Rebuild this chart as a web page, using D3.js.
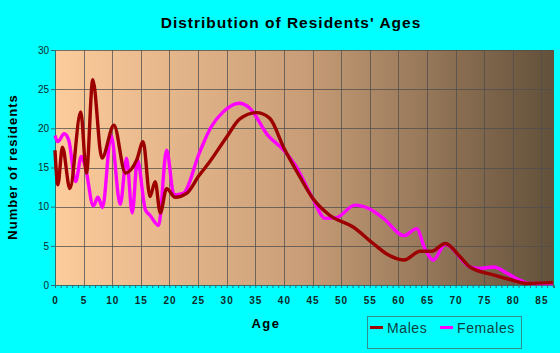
<!DOCTYPE html>
<html>
<head>
<meta charset="utf-8">
<script src="https://cdn.jsdelivr.net/npm/d3@7"></script>
<style>
  body { margin: 0; background: #00ffff; }
  svg { display: block; font-family: Arial, "Liberation Sans", sans-serif; }
</style>
</head>
<body>
<div id="chart"></div>
<script>
var maleAges = [0, 0.5, 1.3, 2.6, 4.5, 5.5, 6.6, 8.2, 10.3, 12.3, 14.3, 15.4, 16.6, 17.5, 18.4, 19.5, 21, 23, 25.2, 27, 30, 32.3, 35.2, 37.5, 40, 42.8, 45, 48, 52.1, 55.6, 57.9, 61, 63.8, 65.8, 68.2, 70.8, 72.5, 76.6, 79.5, 82.4, 87];
var males = [17.2, 12.8, 17.6, 12.3, 22.1, 14.3, 26.2, 16.2, 20.4, 14.3, 16.0, 18.3, 11.3, 13.2, 9.2, 12.3, 11.2, 11.7, 14.0, 15.7, 18.9, 21.2, 22.0, 21.3, 17.5, 13.8, 11.1, 8.9, 7.4, 5.3, 4.0, 3.2, 4.3, 4.3, 5.3, 3.6, 2.3, 1.3, 0.7, 0.2, 0.3];

var femaleAges = [0, 0.5, 1.6, 2.4, 3.6, 4.6, 5.3, 6.7, 7.5, 8.3, 9.8, 11.4, 12.5, 13.5, 14.4, 15.8, 16.6, 18.1, 19.5, 20.8, 22.4, 25.3, 27.3, 29.4, 32.2, 34, 37.2, 40, 42, 45, 47.2, 49.2, 52.4, 55, 57.4, 61, 63.2, 64.6, 66.1, 68.2, 72.5, 74.1, 76.7, 79, 81.6, 83, 87];
var females = [19.1, 18.3, 19.3, 18.5, 13.2, 16.4, 15.1, 10.1, 11.2, 9.9, 19.1, 10.3, 16.2, 9.2, 16.0, 9.6, 8.9, 7.6, 17.2, 11.5, 11.7, 17.0, 20.2, 22.1, 23.2, 22.6, 19.1, 17.2, 15.3, 11.1, 8.5, 8.6, 10.2, 9.7, 8.5, 6.3, 7.2, 4.7, 3.2, 5.2, 2.3, 2.1, 2.3, 1.5, 0.5, 0.2, 0.2];

var xTicks = d3.range(0, 88, 1);
var yTicks = [0, 5, 10, 15, 20, 25, 30];

var w = 560, h = 353;
var margin = {top: 50, right: 6, bottom: 68, left: 55};
var width = w - margin.left - margin.right,
    height = h - margin.top - margin.bottom;

var svg = d3.select("#chart").append("svg").attr("width", w).attr("height", h);

var grad = svg.append("defs").append("linearGradient")
    .attr("id", "bg").attr("x1", "0%").attr("x2", "100%").attr("y1", "0%").attr("y2", "0%");
grad.append("stop").attr("offset", "0%").attr("stop-color", "#fdcc9c");
grad.append("stop").attr("offset", "50%").attr("stop-color", "#c89d77");
grad.append("stop").attr("offset", "100%").attr("stop-color", "#62503a");

var g = svg.append("g").attr("transform", "translate(" + margin.left + "," + margin.top + ")");

var x = d3.scaleLinear().domain([0, 87.2]).range([0, width]);
var y = d3.scaleLinear().domain([0, 30]).range([height, 0]);

g.append("rect").attr("width", width).attr("height", height).attr("fill", "url(#bg)");

// grid
g.append("g").selectAll("line").data(d3.range(5, 86, 5)).enter().append("line")
    .attr("x1", function(d) { return Math.round(x(d)) + 0.5; })
    .attr("x2", function(d) { return Math.round(x(d)) + 0.5; })
    .attr("y1", 0).attr("y2", height)
    .attr("stroke", "#4d4d4d").attr("stroke-opacity", 0.75);
g.append("g").selectAll("line").data(yTicks.slice(1)).enter().append("line")
    .attr("y1", function(d) { return Math.round(y(d)) + 0.5; })
    .attr("y2", function(d) { return Math.round(y(d)) + 0.5; })
    .attr("x1", 0).attr("x2", width)
    .attr("stroke", "#4d4d4d").attr("stroke-opacity", 0.75);

// axes
var xAxis = g.append("g")
    .attr("transform", "translate(0," + height + ")")
    .call(d3.axisBottom(x).tickValues(xTicks).tickSize(3).tickPadding(9)
      .tickFormat(function(d) { return d % 5 === 0 ? d : ""; }));
xAxis.select(".domain").attr("stroke", "#2f6f6f");
xAxis.selectAll(".tick line").attr("stroke", "#2f6f6f");
xAxis.selectAll("text").attr("fill", "#0c2a2a").attr("font-size", 10).attr("font-weight", "bold")
    .attr("letter-spacing", 1).attr("font-family", "Arial, 'Liberation Sans', sans-serif");

var yAxis = g.append("g")
    .call(d3.axisLeft(y).tickValues(yTicks).tickSize(4).tickPadding(2));
yAxis.select(".domain").attr("stroke", "#2f6f6f");
yAxis.selectAll(".tick line").attr("stroke", "#2f6f6f");
yAxis.selectAll("text").attr("fill", "#0c2a2a").attr("font-size", 10)
    .attr("font-family", "Arial, 'Liberation Sans', sans-serif");

// lines
function series(ages, vals) {
  return ages.map(function(a, i) { return {age: a, v: vals[i]}; });
}
var line = d3.line()
    .x(function(d) { return x(d.age); })
    .y(function(d) { return y(d.v); })
    .curve(d3.curveMonotoneX);

g.append("path").datum(series(femaleAges, females))
    .attr("fill", "none").attr("stroke", "#ff00ff").attr("stroke-width", 3.4)
    .attr("stroke-linejoin", "round").attr("d", line);
g.append("path").datum(series(maleAges, males))
    .attr("fill", "none").attr("stroke", "#9c0000").attr("stroke-width", 3.4)
    .attr("stroke-linejoin", "round").attr("d", line);

// titles
svg.append("text").attr("x", 291).attr("y", 28).attr("text-anchor", "middle")
    .attr("font-size", 15.5).attr("font-weight", "bold").attr("letter-spacing", 1)
    .text("Distribution of Residents' Ages");
svg.append("text").attr("x", 266).attr("y", 328).attr("text-anchor", "middle")
    .attr("font-size", 13).attr("font-weight", "bold").attr("letter-spacing", 1.5)
    .text("Age");
svg.append("text").attr("transform", "translate(16.5,167) rotate(-90)").attr("text-anchor", "middle")
    .attr("font-size", 13).attr("font-weight", "bold").attr("letter-spacing", 1)
    .text("Number of residents");

// legend
var leg = svg.append("g");
leg.append("rect").attr("x", 367.5).attr("y", 316.5).attr("width", 154).attr("height", 32)
    .attr("fill", "none").attr("stroke", "#2f8f8f");
var items = [{name: "Males", color: "#9c0000", x: 370}, {name: "Females", color: "#ff00ff", x: 440}];
items.forEach(function(it) {
  leg.append("line").attr("x1", it.x).attr("x2", it.x + 13).attr("y1", 327.5).attr("y2", 327.5)
      .attr("stroke", it.color).attr("stroke-width", 3);
  leg.append("text").attr("x", it.x + 17).attr("y", 332.5)
      .attr("font-size", 14).attr("letter-spacing", 0.6).attr("fill", "#0c3f3f")
      .text(it.name);
});
</script>
</body>
</html>
